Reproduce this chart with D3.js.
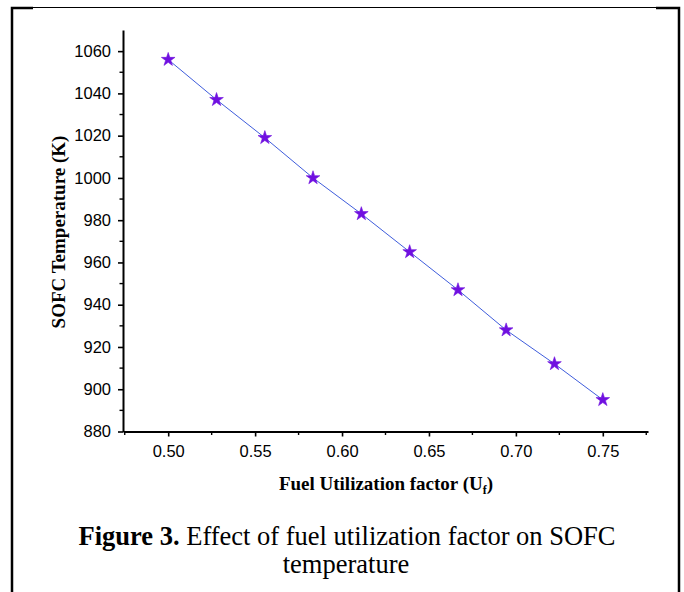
<!DOCTYPE html>
<html>
<head>
<meta charset="utf-8">
<script src="https://cdn.jsdelivr.net/npm/d3@7"></script>
<style>
  body { margin: 0; background: #fff; }
  svg { display: block; }
</style>
</head>
<body>
<svg width="684" height="592"></svg>
<script>
// fuel utilization factor vs SOFC temperature
const uf = [0.5, 0.5278, 0.5556, 0.5833, 0.6111, 0.6389, 0.6667, 0.6944, 0.7222, 0.75];
const temp = [1056, 1037, 1019, 1000, 983, 965, 947, 928, 912, 895];
const xTicks = [0.50, 0.55, 0.60, 0.65, 0.70, 0.75];
const yTicks = [880, 900, 920, 940, 960, 980, 1000, 1020, 1040, 1060];

const svg = d3.select("svg");

// outer frame of the figure
svg.append("path").attr("d", "M12,600 V7.5 H679 V600").attr("fill", "none").attr("stroke", "#000").attr("stroke-width", 1.2);
svg.append("path").attr("d", "M12,600 V8 H33").attr("fill", "none").attr("stroke", "#000").attr("stroke-width", 2.5);
svg.append("path").attr("d", "M656,8 H679 V600").attr("fill", "none").attr("stroke", "#000").attr("stroke-width", 2.5);

const x = d3.scaleLinear().domain([0.474, 0.776]).range([123, 648]);
const y = d3.scaleLinear().domain([880, 1070]).range([431.5, 30]);

const g = svg.append("g");

// minor ticks
const xMinor = [0.475, 0.525, 0.575, 0.625, 0.675, 0.725, 0.775];
const yMinor = d3.range(890, 1070, 20);

g.selectAll(".xminor").data(xMinor).enter().append("line")
  .attr("x1", d => x(d)).attr("x2", d => x(d))
  .attr("y1", 431.5).attr("y2", 435)
  .attr("stroke", "#000").attr("stroke-width", 1.4);
g.selectAll(".yminor").data(yMinor).enter().append("line")
  .attr("x1", 123).attr("x2", 119.5)
  .attr("y1", d => y(d)).attr("y2", d => y(d))
  .attr("stroke", "#000").attr("stroke-width", 1.4);

const xAxis = d3.axisBottom(x).tickValues(xTicks).tickFormat(d3.format(".2f")).tickSizeInner(5).tickSizeOuter(0).tickPadding(9);
const yAxis = d3.axisLeft(y).tickValues(yTicks).tickFormat(d3.format("d")).tickSizeInner(5).tickSizeOuter(0).tickPadding(7);

const gx = g.append("g").attr("transform", "translate(0,431.5)").call(xAxis);
const gy = g.append("g").attr("transform", "translate(123,0)").call(yAxis);

[gx, gy].forEach(a => {
  a.select(".domain").attr("stroke", "#000").attr("stroke-width", 2);
  a.selectAll(".tick line").attr("stroke", "#000").attr("stroke-width", 1.6);
  a.selectAll(".tick text").attr("fill", "#000").style("font-family", "Liberation Sans, Arial, sans-serif").style("font-size", "16.5px");
});

// data line
const pts = uf.map((u, i) => [u, temp[i]]);
g.append("path").datum(pts)
  .attr("fill", "none").attr("stroke", "#3f5ddc").attr("stroke-width", 1)
  .attr("d", d3.line().x(d => x(d[0])).y(d => y(d[1])));

// star markers
const star = d3.symbol().type(d3.symbolStar).size(58);
g.selectAll(".pt").data(pts).enter().append("path")
  .attr("transform", d => `translate(${x(d[0])},${y(d[1])})`)
  .attr("d", star)
  .attr("fill", "#7010e0").attr("stroke", "#7010e0").attr("stroke-width", 0.6);

// axis titles
svg.append("text")
  .attr("transform", "translate(65,232) rotate(-90)")
  .attr("text-anchor", "middle")
  .style("font-family", "Liberation Serif, Times New Roman, serif")
  .style("font-weight", "bold").style("font-size", "19px")
  .text("SOFC Temperature (K)");

const xt = svg.append("text")
  .attr("x", 386).attr("y", 490)
  .attr("text-anchor", "middle")
  .style("font-family", "Liberation Serif, Times New Roman, serif")
  .style("font-weight", "bold").style("font-size", "19px");
xt.append("tspan").text("Fuel Utilization factor (U");
xt.append("tspan").attr("dy", 4).style("font-size", "12px").text("f");
xt.append("tspan").attr("dy", -4).text(")");

// caption
const cap = svg.append("text")
  .attr("x", 347).attr("y", 545)
  .attr("text-anchor", "middle")
  .style("font-family", "Liberation Serif, Times New Roman, serif")
  .style("font-size", "26.5px");
cap.append("tspan").style("font-weight", "bold").text("Figure 3.");
cap.append("tspan").text(" Effect of fuel utilization factor on SOFC");
svg.append("text")
  .attr("x", 346).attr("y", 573)
  .attr("text-anchor", "middle")
  .style("font-family", "Liberation Serif, Times New Roman, serif")
  .style("font-size", "26.5px")
  .text("temperature");
</script>
</body>
</html>
